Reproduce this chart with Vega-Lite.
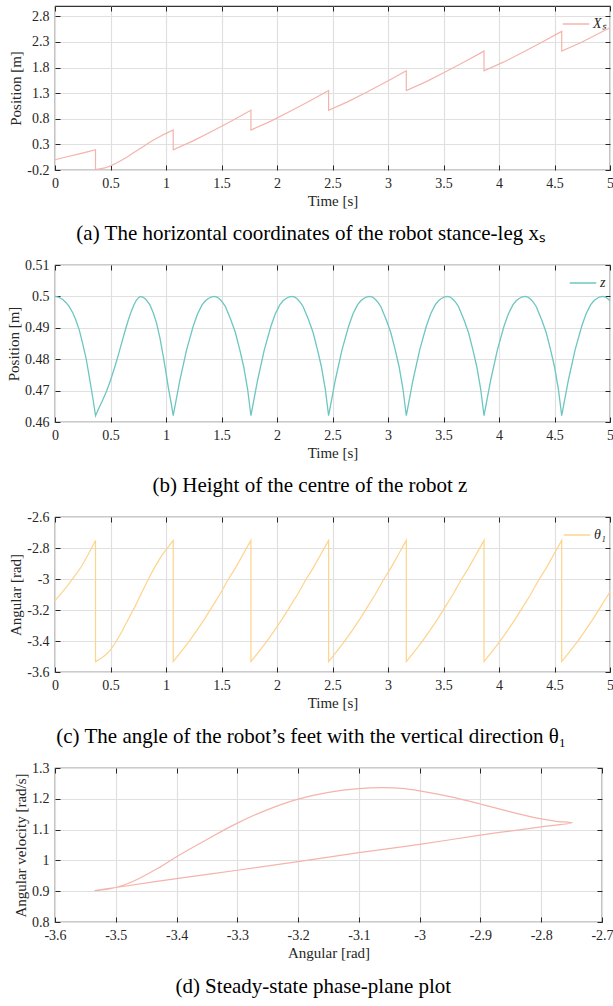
{
  "$schema": "https://vega.github.io/schema/vega-lite/v6.json",
  "padding": {"left": 5, "top": 4, "right": 0, "bottom": 0},
  "spacing": 12,
  "resolve": {"scale": {"color": "independent"}, "legend": {"color": "independent"}},
  "config": {
    "font": "Liberation Serif",
    "locale": {"number": {"decimal": ".", "thousands": ",", "grouping": [3], "currency": ["$", ""], "minus": "-"}},
    "view": {"stroke": "#333333", "strokeWidth": 1.2},
    "axis": {
      "labelFont": "Liberation Serif", "labelFontSize": 14, "labelColor": "#262626",
      "titleFont": "Liberation Serif", "titleFontSize": 15, "titleFontWeight": "normal", "titleColor": "#262626",
      "tickColor": "#262626", "tickSize": -5, "tickWidth": 1, "domain": false,
      "gridColor": "#e0e0e0", "gridWidth": 1.2, "format": "~g", "labelFlush": false, "labelOverlap": false,
      "labelPadding": 11, "titlePadding": 3
    },
    "title": {"orient": "bottom", "font": "Liberation Serif", "fontSize": 21, "fontWeight": "normal", "color": "#000000", "offset": 15, "anchor": "middle", "frame": "bounds"},
    "legend": {"orient": "top-right", "title": null, "symbolType": "stroke", "symbolSize": 700, "symbolStrokeWidth": 1.5, "labelFont": "Liberation Serif", "labelFontStyle": "italic", "labelFontSize": 14, "labelColor": "#262626", "offset": 4, "padding": 0, "labelOffset": 3}
  },
  "datasets": {
    "xs": [
      {"t": 0, "v": 0.0}, {"t": 0.1, "v": 0.053}, {"t": 0.2, "v": 0.106}, {"t": 0.3, "v": 0.16}, {"t": 0.365, "v": 0.195},
      {"t": 0.365, "v": -0.19}, {"t": 0.45, "v": -0.16}, {"t": 0.5, "v": -0.12}, {"t": 0.55, "v": -0.07}, {"t": 0.6, "v": -0.01}, {"t": 0.65, "v": 0.055}, {"t": 0.7, "v": 0.125}, {"t": 0.75, "v": 0.195}, {"t": 0.8, "v": 0.265}, {"t": 0.85, "v": 0.335}, {"t": 0.9, "v": 0.4}, {"t": 0.95, "v": 0.46}, {"t": 1.0, "v": 0.515}, {"t": 1.065, "v": 0.58},
      {"t": 1.065, "v": 0.195}, {"t": 1.24, "v": 0.364}, {"t": 1.415, "v": 0.557}, {"t": 1.59, "v": 0.757}, {"t": 1.765, "v": 0.965},
      {"t": 1.765, "v": 0.58}, {"t": 1.94, "v": 0.749}, {"t": 2.115, "v": 0.942}, {"t": 2.29, "v": 1.142}, {"t": 2.465, "v": 1.35},
      {"t": 2.465, "v": 0.965}, {"t": 2.64, "v": 1.134}, {"t": 2.815, "v": 1.327}, {"t": 2.99, "v": 1.527}, {"t": 3.165, "v": 1.735},
      {"t": 3.165, "v": 1.35}, {"t": 3.34, "v": 1.519}, {"t": 3.515, "v": 1.712}, {"t": 3.69, "v": 1.912}, {"t": 3.865, "v": 2.12},
      {"t": 3.865, "v": 1.735}, {"t": 4.04, "v": 1.904}, {"t": 4.215, "v": 2.097}, {"t": 4.39, "v": 2.297}, {"t": 4.565, "v": 2.505},
      {"t": 4.565, "v": 2.12}, {"t": 4.74, "v": 2.289}, {"t": 4.915, "v": 2.482}, {"t": 5.0, "v": 2.575}
    ],
    "z": [
      {"t": 0, "v": 0.5}, {"t": 0.03, "v": 0.4998}, {"t": 0.067, "v": 0.4991}, {"t": 0.1, "v": 0.498}, {"t": 0.127, "v": 0.4968}, {"t": 0.16, "v": 0.4948}, {"t": 0.188, "v": 0.4925}, {"t": 0.22, "v": 0.4892}, {"t": 0.248, "v": 0.4851}, {"t": 0.28, "v": 0.4803}, {"t": 0.309, "v": 0.4744}, {"t": 0.34, "v": 0.4678}, {"t": 0.365, "v": 0.462},
      {"t": 0.4, "v": 0.4648}, {"t": 0.43, "v": 0.467}, {"t": 0.465, "v": 0.4699}, {"t": 0.5, "v": 0.4733}, {"t": 0.535, "v": 0.4771}, {"t": 0.567, "v": 0.4809}, {"t": 0.6, "v": 0.4851}, {"t": 0.627, "v": 0.4885}, {"t": 0.66, "v": 0.4924}, {"t": 0.688, "v": 0.4953}, {"t": 0.71, "v": 0.4972}, {"t": 0.73, "v": 0.4986}, {"t": 0.75, "v": 0.4995}, {"t": 0.77, "v": 0.5},
      {"t": 0.795, "v": 0.4997}, {"t": 0.82, "v": 0.499}, {"t": 0.855, "v": 0.4973}, {"t": 0.885, "v": 0.4948}, {"t": 0.915, "v": 0.4915}, {"t": 0.946, "v": 0.4866}, {"t": 0.976, "v": 0.4808}, {"t": 1.0, "v": 0.4757}, {"t": 1.02, "v": 0.4712}, {"t": 1.045, "v": 0.4663}, {"t": 1.065, "v": 0.462},
      {"t": 1.125, "v": 0.4733}, {"t": 1.185, "v": 0.4829}, {"t": 1.245, "v": 0.4905}, {"t": 1.285, "v": 0.4945}, {"t": 1.325, "v": 0.4973}, {"t": 1.355, "v": 0.4986}, {"t": 1.375, "v": 0.4992}, {"t": 1.405, "v": 0.4998}, {"t": 1.435, "v": 0.5}, {"t": 1.46, "v": 0.4998}, {"t": 1.485, "v": 0.4991}, {"t": 1.51, "v": 0.4981}, {"t": 1.535, "v": 0.4968}, {"t": 1.585, "v": 0.4925}, {"t": 1.625, "v": 0.4885}, {"t": 1.665, "v": 0.483}, {"t": 1.7, "v": 0.4776}, {"t": 1.735, "v": 0.4705}, {"t": 1.765, "v": 0.462},
      {"t": 1.825, "v": 0.4733}, {"t": 1.885, "v": 0.4829}, {"t": 1.945, "v": 0.4905}, {"t": 1.985, "v": 0.4945}, {"t": 2.025, "v": 0.4973}, {"t": 2.055, "v": 0.4986}, {"t": 2.075, "v": 0.4992}, {"t": 2.105, "v": 0.4998}, {"t": 2.135, "v": 0.5}, {"t": 2.16, "v": 0.4998}, {"t": 2.185, "v": 0.4991}, {"t": 2.21, "v": 0.4981}, {"t": 2.235, "v": 0.4968}, {"t": 2.285, "v": 0.4925}, {"t": 2.325, "v": 0.4885}, {"t": 2.365, "v": 0.483}, {"t": 2.4, "v": 0.4776}, {"t": 2.435, "v": 0.4705}, {"t": 2.465, "v": 0.462},
      {"t": 2.525, "v": 0.4733}, {"t": 2.585, "v": 0.4829}, {"t": 2.645, "v": 0.4905}, {"t": 2.685, "v": 0.4945}, {"t": 2.725, "v": 0.4973}, {"t": 2.755, "v": 0.4986}, {"t": 2.775, "v": 0.4992}, {"t": 2.805, "v": 0.4998}, {"t": 2.835, "v": 0.5}, {"t": 2.86, "v": 0.4998}, {"t": 2.885, "v": 0.4991}, {"t": 2.91, "v": 0.4981}, {"t": 2.935, "v": 0.4968}, {"t": 2.985, "v": 0.4925}, {"t": 3.025, "v": 0.4885}, {"t": 3.065, "v": 0.483}, {"t": 3.1, "v": 0.4776}, {"t": 3.135, "v": 0.4705}, {"t": 3.165, "v": 0.462},
      {"t": 3.225, "v": 0.4733}, {"t": 3.285, "v": 0.4829}, {"t": 3.345, "v": 0.4905}, {"t": 3.385, "v": 0.4945}, {"t": 3.425, "v": 0.4973}, {"t": 3.455, "v": 0.4986}, {"t": 3.475, "v": 0.4992}, {"t": 3.505, "v": 0.4998}, {"t": 3.535, "v": 0.5}, {"t": 3.56, "v": 0.4998}, {"t": 3.585, "v": 0.4991}, {"t": 3.61, "v": 0.4981}, {"t": 3.635, "v": 0.4968}, {"t": 3.685, "v": 0.4925}, {"t": 3.725, "v": 0.4885}, {"t": 3.765, "v": 0.483}, {"t": 3.8, "v": 0.4776}, {"t": 3.835, "v": 0.4705}, {"t": 3.865, "v": 0.462},
      {"t": 3.925, "v": 0.4733}, {"t": 3.985, "v": 0.4829}, {"t": 4.045, "v": 0.4905}, {"t": 4.085, "v": 0.4945}, {"t": 4.125, "v": 0.4973}, {"t": 4.155, "v": 0.4986}, {"t": 4.175, "v": 0.4992}, {"t": 4.205, "v": 0.4998}, {"t": 4.235, "v": 0.5}, {"t": 4.26, "v": 0.4998}, {"t": 4.285, "v": 0.4991}, {"t": 4.31, "v": 0.4981}, {"t": 4.335, "v": 0.4968}, {"t": 4.385, "v": 0.4925}, {"t": 4.425, "v": 0.4885}, {"t": 4.465, "v": 0.483}, {"t": 4.5, "v": 0.4776}, {"t": 4.535, "v": 0.4705}, {"t": 4.565, "v": 0.462},
      {"t": 4.625, "v": 0.4733}, {"t": 4.685, "v": 0.4829}, {"t": 4.745, "v": 0.4905}, {"t": 4.785, "v": 0.4945}, {"t": 4.825, "v": 0.4973}, {"t": 4.855, "v": 0.4986}, {"t": 4.875, "v": 0.4992}, {"t": 4.905, "v": 0.4998}, {"t": 4.935, "v": 0.5}, {"t": 4.96, "v": 0.4998}, {"t": 4.985, "v": 0.4991}, {"t": 5.0, "v": 0.4986}
    ],
    "theta": [
      {"t": 0, "v": -3.14}, {"t": 0.06, "v": -3.09}, {"t": 0.12, "v": -3.036}, {"t": 0.18, "v": -2.978}, {"t": 0.24, "v": -2.918}, {"t": 0.3, "v": -2.84}, {"t": 0.365, "v": -2.751},
      {"t": 0.365, "v": -3.533}, {"t": 0.42, "v": -3.51}, {"t": 0.46, "v": -3.487}, {"t": 0.5, "v": -3.458}, {"t": 0.55, "v": -3.405}, {"t": 0.6, "v": -3.342}, {"t": 0.66, "v": -3.26}, {"t": 0.723, "v": -3.175}, {"t": 0.78, "v": -3.09}, {"t": 0.843, "v": -2.998}, {"t": 0.9, "v": -2.922}, {"t": 0.964, "v": -2.846}, {"t": 1.065, "v": -2.751},
      {"t": 1.065, "v": -3.533}, {"t": 1.135, "v": -3.47}, {"t": 1.205, "v": -3.405}, {"t": 1.275, "v": -3.335}, {"t": 1.345, "v": -3.26}, {"t": 1.415, "v": -3.18}, {"t": 1.485, "v": -3.1}, {"t": 1.555, "v": -3.01}, {"t": 1.625, "v": -2.93}, {"t": 1.695, "v": -2.84}, {"t": 1.765, "v": -2.751},
      {"t": 1.765, "v": -3.533}, {"t": 1.835, "v": -3.47}, {"t": 1.905, "v": -3.405}, {"t": 1.975, "v": -3.335}, {"t": 2.045, "v": -3.26}, {"t": 2.115, "v": -3.18}, {"t": 2.185, "v": -3.1}, {"t": 2.255, "v": -3.01}, {"t": 2.325, "v": -2.93}, {"t": 2.395, "v": -2.84}, {"t": 2.465, "v": -2.751},
      {"t": 2.465, "v": -3.533}, {"t": 2.535, "v": -3.47}, {"t": 2.605, "v": -3.405}, {"t": 2.675, "v": -3.335}, {"t": 2.745, "v": -3.26}, {"t": 2.815, "v": -3.18}, {"t": 2.885, "v": -3.1}, {"t": 2.955, "v": -3.01}, {"t": 3.025, "v": -2.93}, {"t": 3.095, "v": -2.84}, {"t": 3.165, "v": -2.751},
      {"t": 3.165, "v": -3.533}, {"t": 3.235, "v": -3.47}, {"t": 3.305, "v": -3.405}, {"t": 3.375, "v": -3.335}, {"t": 3.445, "v": -3.26}, {"t": 3.515, "v": -3.18}, {"t": 3.585, "v": -3.1}, {"t": 3.655, "v": -3.01}, {"t": 3.725, "v": -2.93}, {"t": 3.795, "v": -2.84}, {"t": 3.865, "v": -2.751},
      {"t": 3.865, "v": -3.533}, {"t": 3.935, "v": -3.47}, {"t": 4.005, "v": -3.405}, {"t": 4.075, "v": -3.335}, {"t": 4.145, "v": -3.26}, {"t": 4.215, "v": -3.18}, {"t": 4.285, "v": -3.1}, {"t": 4.355, "v": -3.01}, {"t": 4.425, "v": -2.93}, {"t": 4.495, "v": -2.84}, {"t": 4.565, "v": -2.751},
      {"t": 4.565, "v": -3.533}, {"t": 4.635, "v": -3.47}, {"t": 4.705, "v": -3.405}, {"t": 4.775, "v": -3.335}, {"t": 4.845, "v": -3.26}, {"t": 4.915, "v": -3.18}, {"t": 4.985, "v": -3.1}, {"t": 5.0, "v": -3.08}
    ],
    "phase": [
      {"a": -3.535, "w": 0.902}, {"a": -3.515, "w": 0.906}, {"a": -3.5, "w": 0.912}, {"a": -3.48, "w": 0.925}, {"a": -3.46, "w": 0.943}, {"a": -3.43, "w": 0.975}, {"a": -3.4, "w": 1.012}, {"a": -3.35, "w": 1.068}, {"a": -3.3, "w": 1.121}, {"a": -3.25, "w": 1.165}, {"a": -3.2, "w": 1.199}, {"a": -3.15, "w": 1.221}, {"a": -3.1, "w": 1.233}, {"a": -3.06, "w": 1.236}, {"a": -3.03, "w": 1.234}, {"a": -3.0, "w": 1.226}, {"a": -2.95, "w": 1.207}, {"a": -2.9, "w": 1.183}, {"a": -2.855, "w": 1.16}, {"a": -2.82, "w": 1.143}, {"a": -2.795, "w": 1.133}, {"a": -2.775, "w": 1.127}, {"a": -2.749, "w": 1.122},
      {"a": -2.8, "w": 1.109}, {"a": -2.9, "w": 1.082}, {"a": -3.0, "w": 1.052}, {"a": -3.1, "w": 1.025}, {"a": -3.2, "w": 0.996}, {"a": -3.3, "w": 0.968}, {"a": -3.4, "w": 0.941}, {"a": -3.5, "w": 0.912}, {"a": -3.535, "w": 0.902}
    ]
  },
  "vconcat": [
    {
      "width": 555, "height": 164,
      "title": {"text": "(a) The horizontal coordinates of the robot stance-leg xₛ"},
      "data": {"name": "xs"},
      "layer": [
        {
          "mark": {"type": "line", "strokeWidth": 1.2},
          "encoding": {
            "x": {"field": "t", "type": "quantitative", "scale": {"domain": [0, 5], "nice": false}, "axis": {"title": "Time [s]", "values": [0, 0.5, 1, 1.5, 2, 2.5, 3, 3.5, 4, 4.5, 5]}},
            "y": {"field": "v", "type": "quantitative", "scale": {"domain": [-0.2, 3.0], "nice": false, "zero": false}, "axis": {"title": "Position [m]", "values": [-0.2, 0.3, 0.8, 1.3, 1.8, 2.3, 2.8]}},
            "color": {"datum": "Xₛ", "scale": {"range": ["#f4b4ac"]}},
            "order": {"value": null}
          }
        },
        {
          "mark": {"type": "line", "opacity": 0},
          "encoding": {
            "x": {"field": "t", "type": "quantitative", "axis": {"orient": "top", "labels": false, "grid": false, "title": null, "values": [0, 0.5, 1, 1.5, 2, 2.5, 3, 3.5, 4, 4.5, 5]}},
            "y": {"field": "v", "type": "quantitative", "axis": {"orient": "right", "labels": false, "grid": false, "title": null, "values": [-0.2, 0.3, 0.8, 1.3, 1.8, 2.3, 2.8]}},
            "order": {"value": null}
          }
        }
      ],
      "resolve": {"axis": {"x": "independent", "y": "independent"}}
    },
    {
      "width": 555, "height": 157,
      "title": {"text": "(b) Height of the centre of the robot z"},
      "data": {"name": "z"},
      "layer": [
        {
          "mark": {"type": "line", "strokeWidth": 1.3},
          "encoding": {
            "x": {"field": "t", "type": "quantitative", "scale": {"domain": [0, 5], "nice": false}, "axis": {"title": "Time [s]", "values": [0, 0.5, 1, 1.5, 2, 2.5, 3, 3.5, 4, 4.5, 5]}},
            "y": {"field": "v", "type": "quantitative", "scale": {"domain": [0.46, 0.51], "nice": false, "zero": false}, "axis": {"title": "Position [m]", "values": [0.46, 0.47, 0.48, 0.49, 0.5, 0.51]}},
            "color": {"datum": "z", "scale": {"range": ["#6cc6c1"]}},
            "order": {"value": null}
          }
        },
        {
          "mark": {"type": "line", "opacity": 0},
          "encoding": {
            "x": {"field": "t", "type": "quantitative", "axis": {"orient": "top", "labels": false, "grid": false, "title": null, "values": [0, 0.5, 1, 1.5, 2, 2.5, 3, 3.5, 4, 4.5, 5]}},
            "y": {"field": "v", "type": "quantitative", "axis": {"orient": "right", "labels": false, "grid": false, "title": null, "values": [0.46, 0.47, 0.48, 0.49, 0.5, 0.51]}},
            "order": {"value": null}
          }
        }
      ],
      "resolve": {"axis": {"x": "independent", "y": "independent"}}
    },
    {
      "width": 555, "height": 155,
      "title": {"text": "(c) The angle of the robot’s feet with the vertical direction θ₁", "offset": 16},
      "data": {"name": "theta"},
      "layer": [
        {
          "mark": {"type": "line", "strokeWidth": 1.2},
          "encoding": {
            "x": {"field": "t", "type": "quantitative", "scale": {"domain": [0, 5], "nice": false}, "axis": {"title": "Time [s]", "values": [0, 0.5, 1, 1.5, 2, 2.5, 3, 3.5, 4, 4.5, 5]}},
            "y": {"field": "v", "type": "quantitative", "scale": {"domain": [-3.6, -2.6], "nice": false, "zero": false}, "axis": {"title": "Angular [rad]", "values": [-3.6, -3.4, -3.2, -3, -2.8, -2.6]}},
            "color": {"datum": "θ₁", "scale": {"range": ["#fdd48b"]}},
            "order": {"value": null}
          }
        },
        {
          "mark": {"type": "line", "opacity": 0},
          "encoding": {
            "x": {"field": "t", "type": "quantitative", "axis": {"orient": "top", "labels": false, "grid": false, "title": null, "values": [0, 0.5, 1, 1.5, 2, 2.5, 3, 3.5, 4, 4.5, 5]}},
            "y": {"field": "v", "type": "quantitative", "axis": {"orient": "right", "labels": false, "grid": false, "title": null, "values": [-3.6, -3.4, -3.2, -3, -2.8, -2.6]}},
            "order": {"value": null}
          }
        }
      ],
      "resolve": {"axis": {"x": "independent", "y": "independent"}}
    },
    {
      "width": 547, "height": 154,
      "title": {"text": "(d) Steady-state phase-plane plot", "offset": 16},
      "data": {"name": "phase"},
      "layer": [
        {
          "mark": {"type": "line", "strokeWidth": 1.2, "color": "#f4b4ac", "interpolate": "catmull-rom"},
          "encoding": {
            "x": {"field": "a", "type": "quantitative", "scale": {"domain": [-3.6, -2.7], "nice": false, "zero": false}, "axis": {"title": "Angular [rad]", "values": [-3.6, -3.5, -3.4, -3.3, -3.2, -3.1, -3, -2.9, -2.8, -2.7]}},
            "y": {"field": "w", "type": "quantitative", "scale": {"domain": [0.8, 1.3], "nice": false, "zero": false}, "axis": {"title": "Angular velocity [rad/s]", "values": [0.8, 0.9, 1, 1.1, 1.2, 1.3]}},
            "order": {"value": null}
          }
        },
        {
          "mark": {"type": "line", "opacity": 0},
          "encoding": {
            "x": {"field": "a", "type": "quantitative", "axis": {"orient": "top", "labels": false, "grid": false, "title": null, "values": [-3.6, -3.5, -3.4, -3.3, -3.2, -3.1, -3, -2.9, -2.8, -2.7]}},
            "y": {"field": "w", "type": "quantitative", "axis": {"orient": "right", "labels": false, "grid": false, "title": null, "values": [0.8, 0.9, 1, 1.1, 1.2, 1.3]}},
            "order": {"value": null}
          }
        }
      ],
      "resolve": {"axis": {"x": "independent", "y": "independent"}}
    }
  ]
}
